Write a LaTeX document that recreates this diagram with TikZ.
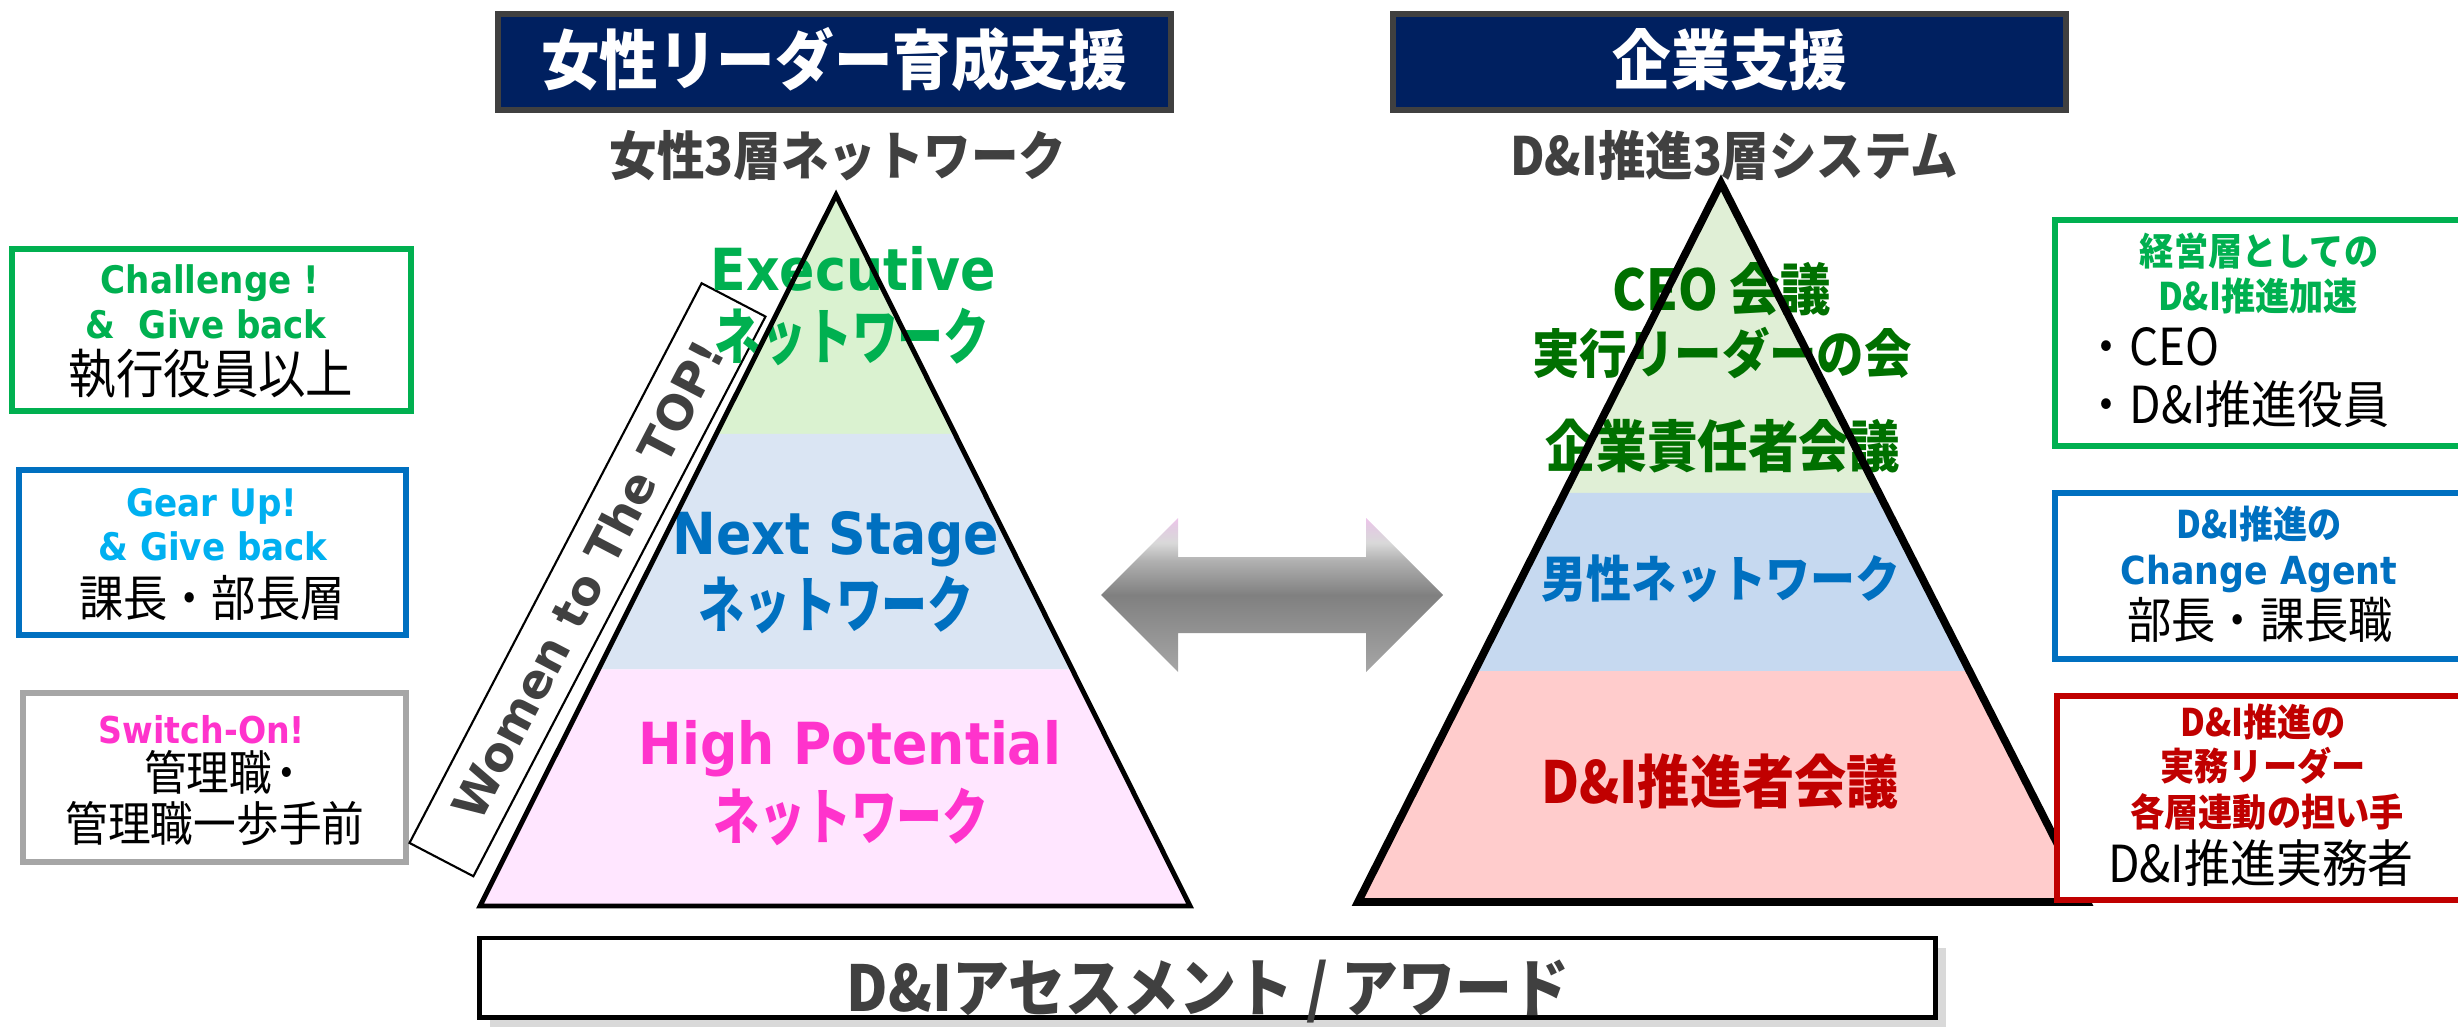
\documentclass[tikz,border=0pt]{standalone}
\usepackage{fontspec}
\setmainfont{DejaVu Sans}
\newfontfamily\jpf{Noto Sans CJK JP}[FakeStretch=0.9]
\newfontfamily\jpk{Noto Sans CJK JP}[FakeStretch=0.75]
\newfontfamily\latf{DejaVu Sans}[FakeStretch=0.9]
\usetikzlibrary{calc}
\definecolor{navyhead}{HTML}{002060}
\definecolor{headgray}{HTML}{404040}
\definecolor{inkgray}{HTML}{404040}
\definecolor{wgreen}{HTML}{00B050}
\definecolor{wblue}{HTML}{0070C0}
\definecolor{wcyan}{HTML}{00B0F0}
\definecolor{wmagenta}{HTML}{FF33CC}
\definecolor{cgreen}{HTML}{007000}
\definecolor{cred}{HTML}{C00000}
\definecolor{boxgray}{HTML}{A6A6A6}
\definecolor{lgreen}{HTML}{DAF2D0}
\definecolor{lblue}{HTML}{DAE5F3}
\definecolor{lpink}{HTML}{FFE6FF}
\definecolor{rgreen}{HTML}{E0EFD6}
\definecolor{rblue}{HTML}{C6D9F0}
\definecolor{rpink}{HTML}{FFCCCC}
\definecolor{arrowlo}{HTML}{A6A6A6}
\definecolor{arrowmid}{HTML}{808080}
\definecolor{arrowsoft}{HTML}{B0B0B0}
\definecolor{arrowlight}{HTML}{D9D9D9}
\definecolor{arrowpinkish}{HTML}{E2CCE2}
\definecolor{arrowpink}{HTML}{EEC4EA}
\newcommand\fsz[1]{\fontsize{#1}{#1}\selectfont}
\pgfdeclareverticalshading{arrowshade}{100bp}{color(0bp)=(arrowlo); color(25bp)=(arrowlo); color(50bp)=(arrowmid); color(61bp)=(arrowsoft); color(67bp)=(arrowlight); color(72bp)=(arrowpinkish); color(75bp)=(arrowpink); color(100bp)=(arrowpink)}

\begin{document}
\begin{tikzpicture}[
    x=0.01cm, y=-0.01cm,
    lbl/.style={inner sep=0pt, anchor=base},
    jb/.style 2 args={lbl, text=#1, font=\jpf\bfseries\fsz{#2}},
    kb/.style 2 args={lbl, text=#1, font=\jpk\bfseries\fsz{#2}},
    jr/.style={lbl, text=black, font=\jpf\fsz{#1}},
    lb/.style 2 args={lbl, text=#1, font=\latf\bfseries\fsz{#2}},
    headbox/.style={draw=headgray, line width=1.6pt, fill=navyhead, minimum width=6.73cm, minimum height=0.96cm, inner sep=0pt},
    sidebox/.style={draw=#1, line width=1.6pt, fill=white, inner sep=0pt},
    banner/.style={draw, line width=0.6pt, fill=white, inner sep=0pt, text=inkgray, font=\bfseries\fsz{13.5}}
  ]
    \clip (0,0) rectangle (2458,1033);

    % headers
    \node[headbox] (hdrL) at (834.5,62) {};
    \node[headbox] (hdrR) at (1729.5,62) {};
    \node[jb={white}{18.5}] (hdrLtxt) at (834,84) {女性リーダー育成支援};
    \node[jb={white}{18.5}] (hdrRtxt) at (1730,84) {企業支援};
    \node[jb={inkgray}{15}] (subL) at (838,175) {女性3層ネットワーク};
    \node[jb={inkgray}{15}] (subR) at (1734,175) {D\&I推進3層システム};

    % left side boxes
    \node[sidebox=wgreen, minimum width=3.99cm, minimum height=1.62cm] (execbox) at (211.5,330) {};
    \node[sidebox=wblue, minimum width=3.87cm, minimum height=1.65cm] (gearbox) at (212.5,552.5) {};
    \node[sidebox=boxgray, minimum width=3.83cm, minimum height=1.69cm] (switchbox) at (214.5,777.5) {};
    \node[lb={wgreen}{10.8}] (chal1) at (210,293) {Challenge !};
    \node[lb={wgreen}{10.8}] (chal2) at (206,338) {\&\ \ Give back};
    \node[jr=15] (chal3) at (211,393) {執行役員以上};
    \node[lb={wcyan}{10.8}] (gear1) at (212,516) {Gear Up!};
    \node[lb={wcyan}{10.8}] (gear2) at (213,560) {\& Give back};
    \node[jr=14] (gear3) at (212,616) {課長・部長層};
    \node[lb={wmagenta}{10.5}] (sw1) at (202,743) {Switch-On!};
    \node[jr=13.5] (sw2) at (226,790) {管理職\kern-0.15em・};
    \node[jr=13.5] (sw3) at (215,841) {管理職一歩手前};

    \node[banner, rotate=62.44, minimum width=6.31cm, minimum height=0.72cm] (wtt) at (587.5,579.75) {Women to The TOP!};

    % left pyramid
    \coordinate (lA) at (836,195);
    \coordinate (lBL) at (480,906);
    \coordinate (lBR) at (1190,906);
    \coordinate (lgL) at ($(lA)!0.336!(lBL)$);
    \coordinate (lgR) at ($(lA)!0.336!(lBR)$);
    \coordinate (lbL) at ($(lA)!0.667!(lBL)$);
    \coordinate (lbR) at ($(lA)!0.667!(lBR)$);
    \fill[lgreen] (lA) -- (lgL) -- (lgR) -- cycle;
    \fill[lblue] (lgL) -- (lbL) -- (lbR) -- (lgR) -- cycle;
    \fill[lpink] (lbL) -- (lBL) -- (lBR) -- (lbR) -- cycle;
    \node[lb={wgreen}{16.5}] (exec1) at (853,290) {Executive};
    \node[kb={wgreen}{17.4}] (exec2) at (852,359) {ネットワーク};
    \node[lb={wblue}{16.5}] (next1) at (836,554) {Next Stage};
    \node[kb={wblue}{17.4}] (next2) at (836,627) {ネットワーク};
    \node[lb={wmagenta}{16.5}] (high1) at (850,764) {High Potential};
    \node[kb={wmagenta}{17.4}] (high2) at (851,839) {ネットワーク};
    \draw[line width=1.4pt] (lA) -- (lBL) -- (lBR) -- cycle;

    % exchange arrow
    \shade[shading=arrowshade] (1101,595) -- (1178,518) -- (1178,557) -- (1366,557) -- (1366,518) -- (1443,595)
      -- (1366,672) -- (1366,633) -- (1178,633) -- (1178,672) -- cycle;

    % right pyramid
    \coordinate (rA) at (1721,183);
    \coordinate (rBL) at (1358,902);
    \coordinate (rBR) at (2087,902);
    \coordinate (rgL) at ($(rA)!0.431!(rBL)$);
    \coordinate (rgR) at ($(rA)!0.431!(rBR)$);
    \coordinate (rbL) at ($(rA)!0.679!(rBL)$);
    \coordinate (rbR) at ($(rA)!0.679!(rBR)$);
    \fill[rgreen] (rA) -- (rgL) -- (rgR) -- cycle;
    \fill[rblue] (rgL) -- (rbL) -- (rbR) -- (rgR) -- cycle;
    \fill[rpink] (rbL) -- (rBL) -- (rBR) -- (rbR) -- cycle;
    \node[jb={cgreen}{16}] (ceo) at (1722,310) {CEO 会議};
    \node[jb={cgreen}{15}] (exlead) at (1722,373) {実行リーダーの会};
    \node[jb={cgreen}{16}] (corp) at (1723,467) {企業責任者会議};
    \node[jb={wblue}{14.2}] (mennet) at (1721,597) {男性ネットワーク};
    \node[jb={cred}{16.5}] (dipro) at (1720,803) {D\&I推進者会議};
    \draw[line width=2.2pt] (rA) -- (rBL) -- (rBR) -- cycle;

    % right side boxes
    \node[sidebox=wgreen, minimum width=4.65cm, minimum height=2.26cm] (mgmtbox) at (2287.5,333) {};
    \node[sidebox=wblue, minimum width=4.65cm, minimum height=1.66cm] (agentbox) at (2287.5,576) {};
    \node[sidebox=cred, minimum width=4.63cm, minimum height=2.04cm] (practbox) at (2288.5,798) {};
    \node[jb={wgreen}{10.8}] (mg1) at (2259,265) {経営層としての};
    \node[jb={wgreen}{10.8}] (mg2) at (2258,310) {D\&I推進加速};
    \node[jr=14.5, anchor=base west] (mg3) at (2083,365) {・CEO};
    \node[jr=14.5, anchor=base west] (mg4) at (2083,423) {・D\&I推進役員};
    \node[jb={wblue}{10.8}] (ca1) at (2259,538) {D\&I推進の};
    \node[lb={wblue}{11}] (ca2) at (2259,584) {Change Agent};
    \node[jr=14] (ca3) at (2260,638) {部長・課長職};
    \node[jb={cred}{10.8}] (pr1) at (2263,736) {D\&I推進の};
    \node[jb={cred}{10.8}] (pr2) at (2263,780) {実務リーダー};
    \node[jb={cred}{10.8}] (pr3) at (2267,826) {各層連動の担い手};
    \node[jr=14.5] (pr4) at (2261,882) {D\&I推進実務者};

    % assessment bar
    \fill[black!15] (490,948) rectangle (1946,1027);
    \node[sidebox=black, line width=1.4pt, minimum width=14.55cm, minimum height=0.79cm] (assessbox) at (1207.5,977.5) {};
    \node[jb={inkgray}{18}] (assess) at (1208,1011) {D\&Iアセスメント / アワード};
  \end{tikzpicture}
\end{document}
